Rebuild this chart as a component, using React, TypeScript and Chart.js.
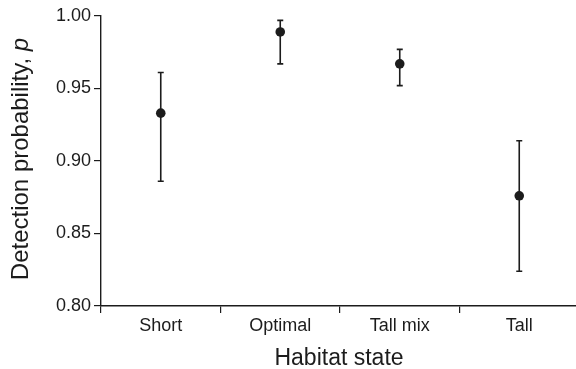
import { useEffect, useRef } from 'react';
import { Chart, registerables } from 'chart.js';

Chart.register(...registerables);

const categories = ['Short', 'Optimal', 'Tall mix', 'Tall'];
const estimates = [0.933, 0.989, 0.967, 0.876];
const lowerCI = [0.886, 0.967, 0.952, 0.824];
const upperCI = [0.961, 0.997, 0.977, 0.914];
const yTickValues = [0.8, 0.85, 0.9, 0.95, 1.0];

const FONT = "'Liberation Sans', Arial, Helvetica, sans-serif";
const INK = '#1c1c1c';

const errorBarPlugin = {
  id: 'errorBars',
  beforeDatasetsDraw(chart: any) {
    const { ctx, scales } = chart;
    const xs = scales.x;
    const ys = scales.y;
    ctx.save();
    ctx.strokeStyle = INK;
    ctx.lineWidth = 1.6;
    for (let i = 0; i < categories.length; i++) {
      const x = xs.getPixelForValue(i);
      const yl = ys.getPixelForValue(lowerCI[i]);
      const yu = ys.getPixelForValue(upperCI[i]);
      ctx.beginPath();
      ctx.moveTo(x, yl);
      ctx.lineTo(x, yu);
      ctx.moveTo(x - 3, yl);
      ctx.lineTo(x + 3, yl);
      ctx.moveTo(x - 3, yu);
      ctx.lineTo(x + 3, yu);
      ctx.stroke();
    }
    ctx.restore();
  },
};

const titlePlugin = {
  id: 'axisTitles',
  afterDraw(chart: any) {
    const { ctx } = chart;
    ctx.save();
    ctx.fillStyle = INK;
    // x title
    ctx.font = `23px ${FONT}`;
    ctx.textAlign = 'center';
    ctx.textBaseline = 'alphabetic';
    ctx.fillText('Habitat state', 339, 365);
    // y title with italic p
    const part1 = 'Detection probability, ';
    const part2 = 'p';
    const size = 24;
    ctx.font = `${size}px ${FONT}`;
    const w1 = ctx.measureText(part1).width;
    ctx.font = `italic ${size}px ${FONT}`;
    const w2 = ctx.measureText(part2).width;
    const total = w1 + w2;
    const cy = 159;
    ctx.translate(28, cy);
    ctx.rotate(-Math.PI / 2);
    ctx.textAlign = 'left';
    ctx.font = `${size}px ${FONT}`;
    ctx.fillText(part1, -total / 2, 0);
    ctx.font = `italic ${size}px ${FONT}`;
    ctx.fillText(part2, -total / 2 + w1, 0);
    ctx.restore();
  },
};

export default function App() {
  const ref = useRef<HTMLCanvasElement | null>(null);
  useEffect(() => {
    document.body.style.margin = '0';
    document.body.style.overflow = 'hidden';
    const canvas = ref.current;
    if (!canvas) return;
    const chart = new Chart(canvas, {
      type: 'line',
      data: {
        labels: categories,
        datasets: [
          {
            data: estimates,
            showLine: false,
            pointRadius: 4.8,
            pointHoverRadius: 4.8,
            pointBackgroundColor: INK,
            pointBorderColor: INK,
            pointBorderWidth: 0,
          },
        ],
      },
      options: {
        responsive: false,
        animation: false,
        devicePixelRatio: 1,
        layout: { autoPadding: false, padding: { top: 16, right: 0, bottom: 0, left: 0 } },
        plugins: {
          legend: { display: false },
          tooltip: { enabled: false },
        },
        scales: {
          x: {
            type: 'category',
            offset: true,
            grid: {
              offset: true,
              drawOnChartArea: false,
              drawTicks: true,
              tickLength: 7,
              color: INK,
              lineWidth: 1.2,
            },
            border: { display: true, color: INK, width: 1.4 },
            ticks: {
              color: INK,
              font: { family: FONT, size: 18 },
              padding: 2,
            },
            afterFit(scale: any) {
              scale.height = 63;
              scale.paddingLeft = 0;
              scale.paddingRight = 0;
            },
          },
          y: {
            min: 0.8,
            max: 1.0,
            afterBuildTicks(scale: any) {
              scale.ticks = yTickValues.map((v) => ({ value: v }));
            },
            grid: {
              drawOnChartArea: false,
              drawTicks: true,
              tickLength: 7,
              color: INK,
              lineWidth: 1.2,
            },
            border: { display: true, color: INK, width: 1.4 },
            ticks: {
              color: INK,
              font: { family: FONT, size: 18 },
              padding: 3,
              callback: (v: any) => Number(v).toFixed(2),
            },
            afterFit(scale: any) {
              scale.width = 101;
            },
          },
        },
      },
      plugins: [errorBarPlugin, titlePlugin],
    });
    return () => chart.destroy();
  }, []);
  return (
    <div style={{ width: 576, height: 369, overflow: 'hidden' }}>
      <canvas ref={ref} width={579} height={369} style={{ display: 'block' }} />
    </div>
  );
}
